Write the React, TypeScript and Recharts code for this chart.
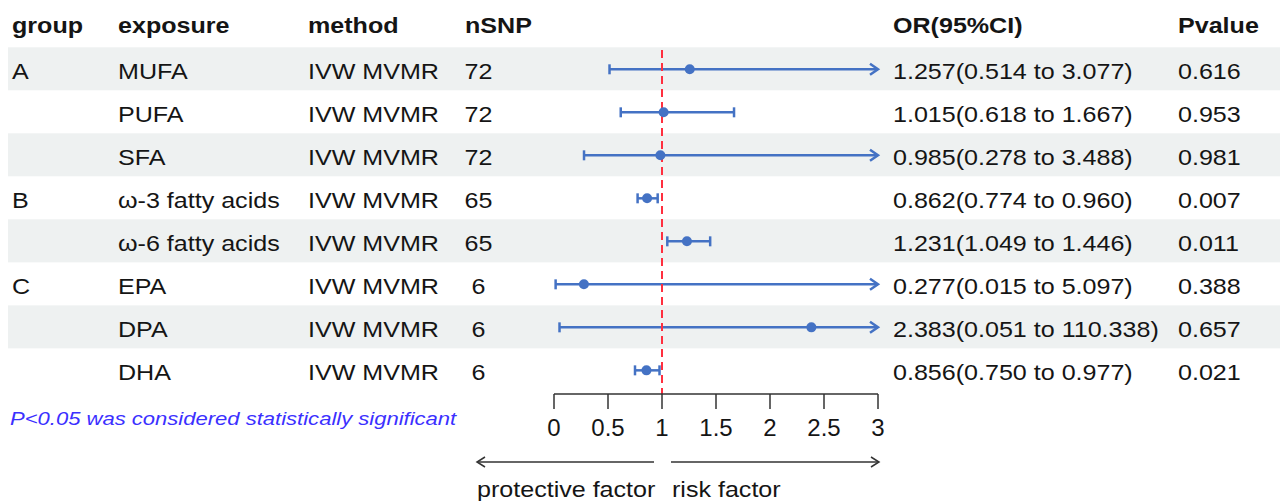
import React from "react";
import { ReferenceLine, Scatter, ScatterChart, XAxis, YAxis } from "recharts";

// forest plot: MVMR of fatty acids, OR (95% CI)
const groups = ["A", "", "", "B", "", "C", "", ""];
const exposures = ["MUFA", "PUFA", "SFA", "ω-3 fatty acids", "ω-6 fatty acids", "EPA", "DPA", "DHA"];
const methods = ["IVW MVMR", "IVW MVMR", "IVW MVMR", "IVW MVMR", "IVW MVMR", "IVW MVMR", "IVW MVMR", "IVW MVMR"];
const nSnp = [72, 72, 72, 65, 65, 6, 6, 6];
const orValues = [1.257, 1.015, 0.985, 0.862, 1.231, 0.277, 2.383, 0.856];
const lowerCi = [0.514, 0.618, 0.278, 0.774, 1.049, 0.015, 0.051, 0.75];
const upperCi = [3.077, 1.667, 3.488, 0.96, 1.446, 5.097, 110.338, 0.977];
const pValues = ["0.616", "0.953", "0.981", "0.007", "0.011", "0.388", "0.657", "0.021"];
const headers = ["group", "exposure", "method", "nSNP", "OR(95%CI)", "Pvalue"];
const xTicks = [0, 0.5, 1, 1.5, 2, 2.5, 3];
const xMax = 3;

const FONT = '"Liberation Sans", Arial, sans-serif';
const SX = 1.14; // the source text is a little wider than plain Arial
const BLUE = "#4472c4";
const INK = "#151515";

const fmt = (v: number) => v.toFixed(3);

const rows = exposures.map((e, i) => ({
  x: 1.5,
  y: i,
  group: groups[i],
  exposure: e,
  method: methods[i],
  n: nSnp[i],
  orText: `${fmt(orValues[i])}(${fmt(lowerCi[i])} to ${fmt(upperCi[i])})`,
  p: pValues[i],
  shade: i % 2 === 0,
}));
const tableData = [{ x: 1.5, y: -1, header: true }, ...rows];
const pointData = orValues.map((v, i) => ({ x: v, y: i }));

function T({
  x,
  y,
  children,
  anchor = "start",
  bold = false,
  size = 22,
  sx = SX,
  fill = INK,
  italic = false,
}: {
  x: number;
  y: number;
  children: React.ReactNode;
  anchor?: "start" | "middle" | "end";
  bold?: boolean;
  size?: number;
  sx?: number;
  fill?: string;
  italic?: boolean;
}) {
  return (
    <text
      transform={`translate(${x},${y}) scale(${sx},1)`}
      textAnchor={anchor}
      fontFamily={FONT}
      fontSize={size}
      fontWeight={bold ? 700 : 400}
      fontStyle={italic ? "italic" : "normal"}
      fill={fill}
    >
      {children}
    </text>
  );
}

function TableRow(props: any) {
  const { cy, payload } = props;
  if (cy == null || !payload) return null;
  if (payload.header) {
    const b = cy + 7;
    return (
      <g>
        <T x={12} y={b} bold>{headers[0]}</T>
        <T x={118} y={b} bold>{headers[1]}</T>
        <T x={308} y={b} bold>{headers[2]}</T>
        <T x={465} y={b} bold>{headers[3]}</T>
        <T x={893} y={b} bold>{headers[4]}</T>
        <T x={1178} y={b} bold>{headers[5]}</T>
      </g>
    );
  }
  const b = cy + 10;
  return (
    <g>
      {payload.shade && <rect x={8} y={cy - 22} width={1272} height={43} fill="#eef1f1" />}
      <T x={12} y={b}>{payload.group}</T>
      <T x={118} y={b}>{payload.exposure}</T>
      <T x={308} y={b}>{payload.method}</T>
      <T x={478.5} y={b} anchor="middle">{payload.n}</T>
      <T x={893} y={b}>{payload.orText}</T>
      <T x={1178} y={b}>{payload.p}</T>
    </g>
  );
}

function CiShape(props: any) {
  const { x1, y1, x2, y2, arrow } = props;
  if (x1 == null) return null;
  return (
    <g stroke={BLUE} strokeWidth={2.5} fill="none">
      <line x1={x1} y1={y1} x2={x2} y2={y2} />
      <line x1={x1} y1={y1 - 5} x2={x1} y2={y1 + 5} />
      {arrow ? (
        <path d={`M${x2 - 8},${y2 - 5.5} L${x2},${y2} L${x2 - 8},${y2 + 5.5}`} strokeLinejoin="miter" />
      ) : (
        <line x1={x2} y1={y2 - 5} x2={x2} y2={y2 + 5} />
      )}
    </g>
  );
}

function Dot(props: any) {
  const { cx, cy } = props;
  if (cx == null || cy == null) return null;
  return <circle cx={cx} cy={cy} r={5} fill={BLUE} />;
}

function Tick(props: any) {
  const { x, y, payload } = props;
  return (
    <T x={x} y={y + 25} anchor="middle" size={24} sx={1} fill={INK}>
      {payload.value}
    </T>
  );
}

export default function App() {
  return (
    <div style={{ position: "absolute", left: 0, top: 0, width: 1280, height: 501, background: "#fff" }}>
      <ScatterChart
        width={1280}
        height={501}
        margin={{ top: 4.8, right: 402, bottom: 57, left: 554 }}
      >
        <XAxis
          type="number"
          dataKey="x"
          domain={[0, xMax]}
          ticks={xTicks}
          interval={0}
          height={50}
          tickSize={15}
          axisLine={{ stroke: "#333", strokeWidth: 1.5 }}
          tickLine={{ stroke: "#333", strokeWidth: 1.5 }}
          tick={<Tick />}
        />
        <YAxis type="number" dataKey="y" domain={[-1.5, 7.55]} reversed hide />
        <Scatter data={tableData} shape={<TableRow />} isAnimationActive={false} zIndex={-10} />
        {rows.map((r, i) => (
          <ReferenceLine
            key={r.exposure}
            segment={[
              { x: lowerCi[i], y: i },
              { x: Math.min(upperCi[i], xMax), y: i },
            ]}
            ifOverflow="visible"
            shape={(p: any) => <CiShape {...p} arrow={upperCi[i] > xMax} />}
          />
        ))}
        <ReferenceLine
          segment={[
            { x: 1, y: -0.45 },
            { x: 1, y: 7.55 },
          ]}
          stroke="#ff2f3f"
          strokeWidth={2}
          strokeDasharray="8 5"
          ifOverflow="visible"
        />
        <Scatter data={pointData} shape={<Dot />} isAnimationActive={false} />
      </ScatterChart>
      <svg
        width={1280}
        height={501}
        style={{ position: "absolute", left: 0, top: 0, pointerEvents: "none" }}
      >
        <T x={10} y={425} size={19} sx={1.16} italic fill="#3b30ff">
          P&lt;0.05 was considered statistically significant
        </T>
        <g stroke="#333" strokeWidth={1.5} fill="none">
          <line x1={477} y1={462} x2={654} y2={462} />
          <path d="M485,457 L477,462 L485,467" />
          <line x1={671} y1={462} x2={879} y2={462} />
          <path d="M871,457 L879,462 L871,467" />
        </g>
        <T x={477} y={497}>protective factor</T>
        <T x={672} y={497}>risk factor</T>
      </svg>
    </div>
  );
}
